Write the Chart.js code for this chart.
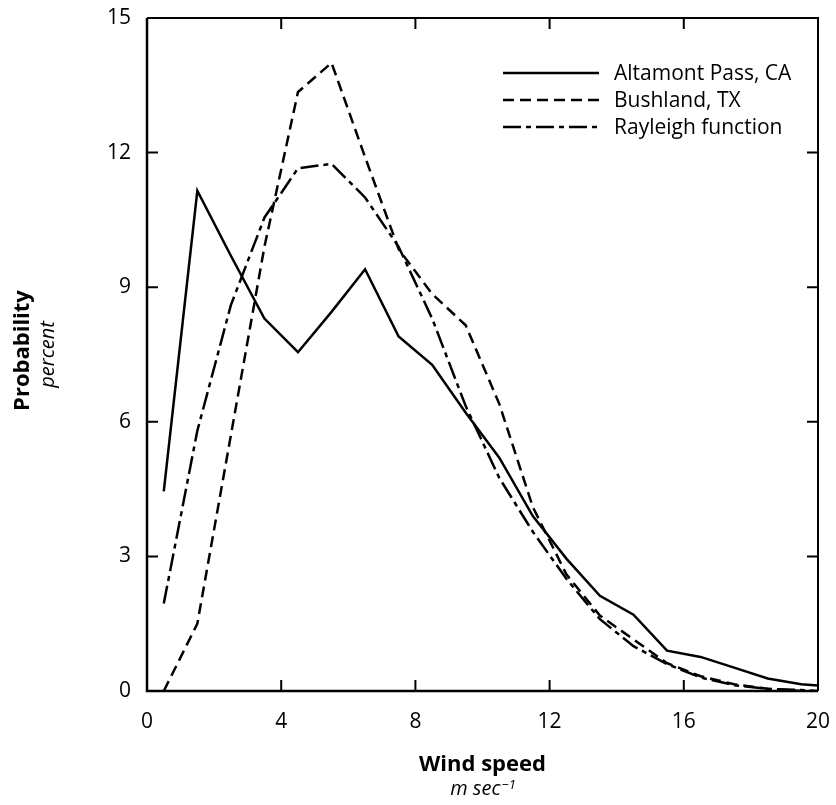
<!DOCTYPE html>
<html>
<head>
<meta charset="utf-8">
<script src="https://cdn.jsdelivr.net/npm/chart.js@4.4.1/dist/chart.umd.min.js"></script>
<style>
  html, body { margin: 0; padding: 0; background: #fff; }
  #wrap { width: 836px; height: 805px; position: relative; }
</style>
</head>
<body>
<div id="wrap"><canvas id="c" width="836" height="805"></canvas></div>
<script>
// ---- data ----
const windSpeed = [0.5, 1.5, 2.5, 3.5, 4.5, 5.5, 6.5, 7.5, 8.5, 9.5, 10.5, 11.5, 12.5, 13.5, 14.5, 15.5, 16.5, 17.5, 18.5, 19.5, 20];
const altamont  = [4.45, 11.15, 9.7, 8.3, 7.55, 8.45, 9.4, 7.9, 7.27, 6.2, 5.2, 3.9, 2.95, 2.12, 1.7, 0.9, 0.76, 0.52, 0.28, 0.15, 0.12];
const bushland  = [0.0, 1.5, 5.7, 9.9, 13.35, 14.0, 11.9, 9.85, 8.85, 8.15, 6.4, 4.1, 2.6, 1.68, 1.15, 0.62, 0.33, 0.15, 0.05, 0.0, -0.05];
const rayleigh  = [1.95, 5.8, 8.6, 10.55, 11.65, 11.75, 11.0, 9.9, 8.3, 6.35, 4.75, 3.55, 2.5, 1.6, 1.0, 0.6, 0.3, 0.13, 0.05, 0.02, 0.0];
const seriesNames = ['Altamont Pass, CA', 'Bushland, TX', 'Rayleigh function'];
const yTicks = [0, 3, 6, 9, 12, 15];
const xTicks = [0, 4, 8, 12, 16, 20];
const xTitle = 'Wind speed';
const xUnit = 'm sec';
const xUnitSup = '\u22121';
const yTitle = 'Probability';
const yUnit = 'percent';

const FONT = '"Open Sans", "Noto Sans", sans-serif';
const toPts = arr => arr.map((v, i) => ({ x: windSpeed[i], y: v }));

const dashes = [[], [11, 6], [18, 5, 5, 5]];

const decor = {
  id: 'decor',
  afterDatasetsDraw(chart) {
    const ctx = chart.ctx;
    const ca = chart.chartArea;
    const xs = chart.scales.x, ys = chart.scales.y;
    ctx.save();
    ctx.strokeStyle = '#000';
    ctx.lineCap = 'butt';
    // frame
    ctx.lineWidth = 2.5;
    ctx.beginPath();
    ctx.moveTo(ca.left, ca.top); ctx.lineTo(ca.left, ca.bottom); ctx.lineTo(ca.right, ca.bottom);
    ctx.stroke();
    ctx.lineWidth = 2;
    ctx.beginPath();
    ctx.moveTo(ca.left, ca.top); ctx.lineTo(ca.right, ca.top); ctx.lineTo(ca.right, ca.bottom);
    ctx.stroke();
    // inward ticks
    const tl = 11;
    ctx.lineWidth = 2;
    ctx.beginPath();
    xTicks.forEach(v => {
      if (v === xTicks[0] || v === xTicks[xTicks.length - 1]) return;
      const px = xs.getPixelForValue(v);
      ctx.moveTo(px, ca.bottom); ctx.lineTo(px, ca.bottom - tl);
      ctx.moveTo(px, ca.top); ctx.lineTo(px, ca.top + tl);
    });
    yTicks.forEach(v => {
      if (v === yTicks[0] || v === yTicks[yTicks.length - 1]) return;
      const py = ys.getPixelForValue(v);
      ctx.moveTo(ca.left, py); ctx.lineTo(ca.left + tl, py);
      ctx.moveTo(ca.right, py); ctx.lineTo(ca.right - tl, py);
    });
    ctx.stroke();

    // legend
    ctx.fillStyle = '#000';
    ctx.font = '21px ' + FONT;
    ctx.textBaseline = 'middle';
    ctx.textAlign = 'left';
    const rowsY = [73, 100, 127];
    chart.data.datasets.forEach((ds, i) => {
      const y = rowsY[i];
      ctx.lineWidth = 2.7;
      ctx.setLineDash(ds.borderDash || []);
      ctx.beginPath();
      ctx.moveTo(503, y); ctx.lineTo(599, y);
      ctx.stroke();
      ctx.setLineDash([]);
      ctx.fillText(ds.label, 614, y + 1);
    });

    // x title
    ctx.textAlign = 'center';
    ctx.textBaseline = 'alphabetic';
    ctx.font = 'bold 22px ' + FONT;
    const cx = (ca.left + ca.right) / 2;
    ctx.fillText(xTitle, cx, 771);
    ctx.font = 'italic 20px ' + FONT;
    const w1 = ctx.measureText(xUnit).width;
    ctx.font = 'italic 13px ' + FONT;
    const w2 = ctx.measureText(xUnitSup).width;
    const startX = cx - (w1 + w2) / 2;
    ctx.textAlign = 'left';
    ctx.font = 'italic 20px ' + FONT;
    ctx.fillText(xUnit, startX, 795);
    ctx.font = 'italic 13px ' + FONT;
    ctx.fillText(xUnitSup, startX + w1 + 1, 789);

    // y title
    const cy = (ca.top + ca.bottom) / 2;
    ctx.save();
    ctx.translate(29, cy - 4);
    ctx.rotate(-Math.PI / 2);
    ctx.textAlign = 'center';
    ctx.font = 'bold 22px ' + FONT;
    ctx.fillText(yTitle, 0, 0);
    ctx.restore();
    ctx.save();
    ctx.translate(54, cy);
    ctx.rotate(-Math.PI / 2);
    ctx.textAlign = 'center';
    ctx.font = 'italic 20px ' + FONT;
    ctx.fillText(yUnit, 0, 0);
    ctx.restore();
    ctx.restore();
  }
};

const bg = {
  id: 'bg',
  beforeDraw(chart) {
    const ctx = chart.ctx;
    ctx.save();
    ctx.fillStyle = '#fff';
    ctx.fillRect(0, 0, chart.width, chart.height);
    ctx.restore();
  }
};

new Chart(document.getElementById('c'), {
  type: 'line',
  data: {
    datasets: [altamont, bushland, rayleigh].map((arr, i) => ({
      label: seriesNames[i],
      data: toPts(arr),
      borderColor: '#000',
      borderWidth: 2.5,
      borderDash: dashes[i],
      pointRadius: 0,
      tension: 0,
      fill: false
    }))
  },
  options: {
    responsive: false,
    animation: false,
    devicePixelRatio: 1,
    layout: { padding: { left: 0, top: 18, right: 18, bottom: 0 } },
    plugins: { legend: { display: false }, tooltip: { enabled: false } },
    scales: {
      x: {
        type: 'linear', min: 0, max: 20,
        afterBuildTicks: s => { s.ticks = xTicks.map(v => ({ value: v })); },
        afterFit: s => { s.height = 114; },
        grid: { display: false, drawTicks: true, tickLength: 18 },
        border: { display: false },
        ticks: { color: '#000', font: { size: 21, family: FONT }, padding: 0, maxRotation: 0 }
      },
      y: {
        type: 'linear', min: 0, max: 15,
        afterBuildTicks: s => { s.ticks = yTicks.map(v => ({ value: v })); },
        afterFit: s => { s.width = 147; },
        grid: { display: false, drawTicks: true, tickLength: 16 },
        border: { display: false },
        ticks: { color: '#000', font: { size: 21, family: FONT }, padding: 0 }
      }
    }
  },
  plugins: [bg, decor]
});
</script>
</body>
</html>
